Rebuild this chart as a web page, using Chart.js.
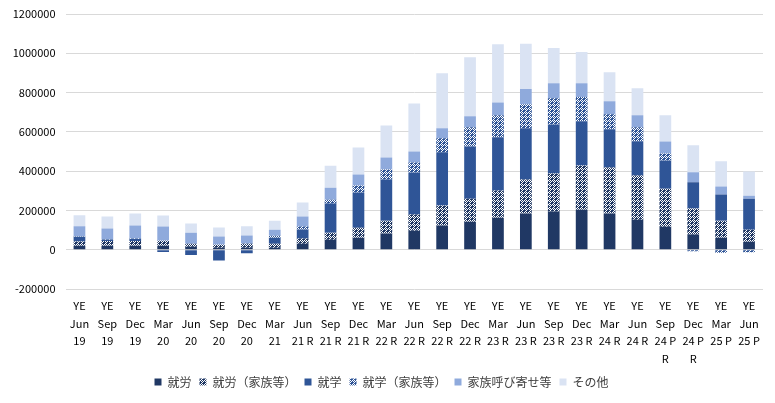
<!DOCTYPE html>
<html>
<head>
<meta charset="utf-8">
<script src="https://cdn.jsdelivr.net/npm/chart.js@4"></script>
<style>
  html, body { margin: 0; padding: 0; background: #fff; }
  #wrap { width: 775px; height: 403px; }
</style>
</head>
<body>
<div id="wrap"><canvas id="chart" width="775" height="403"></canvas></div>
<script>
// 年次（YE）ごとの区分
const categories = [
  ['YE', 'Jun', '19'], ['YE', 'Sep', '19'], ['YE', 'Dec', '19'], ['YE', 'Mar', '20'],
  ['YE', 'Jun', '20'], ['YE', 'Sep', '20'], ['YE', 'Dec', '20'], ['YE', 'Mar', '21'],
  ['YE', 'Jun', '21 R'], ['YE', 'Sep', '21 R'], ['YE', 'Dec', '21 R'], ['YE', 'Mar', '22 R'],
  ['YE', 'Jun', '22 R'], ['YE', 'Sep', '22 R'], ['YE', 'Dec', '22 R'], ['YE', 'Mar', '23 R'],
  ['YE', 'Jun', '23 R'], ['YE', 'Sep', '23 R'], ['YE', 'Dec', '23 R'], ['YE', 'Mar', '24 R'],
  ['YE', 'Jun', '24 R'], ['YE', 'Sep', '24 P', 'R'], ['YE', 'Dec', '24 P', 'R'], ['YE', 'Mar', '25 P'],
  ['YE', 'Jun', '25 P']
];

const work = [20000, 20000, 20000, 20000, 15000, 10000, 10000, 10000, 31000, 51000, 61000, 82000, 97000,
  123000, 143000, 163000, 184000, 194000, 204000, 184000, 153000, 117000, 77000, 61000, 41000];
const workDep = [22000, 24000, 25000, 25000, 15000, 14000, 20000, 20000, 26000, 36000, 51000, 66000, 82000,
  102000, 117000, 138000, 174000, 194000, 225000, 235000, 225000, 194000, 133000, 87000, 61000];
const study = [24000, 7000, 10000, -12000, -27000, -55000, -18000, 31000, 46000, 148000, 179000, 209000, 214000,
  271000, 266000, 271000, 260000, 250000, 225000, 194000, 174000, 143000, 133000, 133000, 158000];
const studyDep = [2000, 2000, 2000, 2000, 1000, 2000, 2000, 10000, 15000, 20000, 36000, 51000, 51000,
  71000, 97000, 112000, 123000, 133000, 123000, 77000, 71000, 36000, -8000, -15000, -13000];
const family = [51000, 55000, 66000, 71000, 56000, 41000, 41000, 31000, 51000, 61000, 56000, 61000, 56000,
  51000, 56000, 66000, 77000, 77000, 71000, 66000, 61000, 61000, 51000, 41000, 15000];
const other = [56000, 61000, 61000, 56000, 46000, 46000, 46000, 46000, 71000, 112000, 138000, 163000, 245000,
  281000, 301000, 296000, 230000, 179000, 158000, 148000, 138000, 133000, 138000, 128000, 123000];

const yTicks = { min: -200000, max: 1200000, step: 200000 };

const FONT = "'Noto Sans CJK JP', 'Noto Sans', sans-serif";

// ドット柄（Excel の塗りつぶしパターン風）
function dotPattern(color) {
  const c = document.createElement('canvas');
  c.width = 4; c.height = 4;
  const g = c.getContext('2d');
  g.fillStyle = color;
  g.fillRect(0, 0, 4, 4);
  g.fillStyle = '#ffffff';
  [[0, 0], [2, 0], [1, 1], [3, 1], [2, 2], [1, 3]].forEach(([x, y]) => g.fillRect(x, y, 1, 1));
  return g.createPattern(c, 'repeat');
}

const NAVY = '#203864';
const BLUE = '#2F5597';

const datasets = [
  { label: '就労', data: work, backgroundColor: NAVY },
  { label: '就労（家族等）', data: workDep, backgroundColor: dotPattern(NAVY) },
  { label: '就学', data: study, backgroundColor: BLUE },
  { label: '就学（家族等）', data: studyDep, backgroundColor: dotPattern(BLUE) },
  { label: '家族呼び寄せ等', data: family, backgroundColor: '#8FAADC' },
  { label: 'その他', data: other, backgroundColor: '#DAE3F3' },
].map(d => ({ ...d, borderWidth: 0, categoryPercentage: 1, barPercentage: 0.42 }));

new Chart(document.getElementById('chart'), {
  type: 'bar',
  data: { labels: categories, datasets },
  options: {
    responsive: false,
    animation: false,
    layout: { padding: { left: 0, right: 12, top: 0, bottom: 5 } },
    plugins: {
      tooltip: { enabled: false },
      legend: {
        position: 'bottom',
        labels: {
          font: { family: FONT, size: 12 },
          color: '#404040',
          boxWidth: 7,
          boxHeight: 7,
          padding: 8
        }
      }
    },
    scales: {
      x: {
        stacked: true,
        grid: { display: false, drawTicks: false },
        border: { display: false },
        ticks: {
          autoSkip: false,
          maxRotation: 0,
          minRotation: 0,
          padding: 8,
          color: '#000',
          font: { family: FONT, size: 11, lineHeight: 1.6 }
        },
        afterFit: s => { s.height = 79; }
      },
      y: {
        stacked: true,
        min: yTicks.min,
        max: yTicks.max,
        grid: { color: '#D9D9D9', drawTicks: false },
        border: { display: false },
        ticks: {
          stepSize: yTicks.step,
          padding: 10,
          color: '#000',
          font: { family: FONT, size: 11, lineHeight: 1.0 },
          callback: v => String(v)
        },
        afterFit: s => { s.width = 65.5; s.paddingTop = 14; s.paddingBottom = 0; }
      }
    }
  }
});
</script>
</body>
</html>
